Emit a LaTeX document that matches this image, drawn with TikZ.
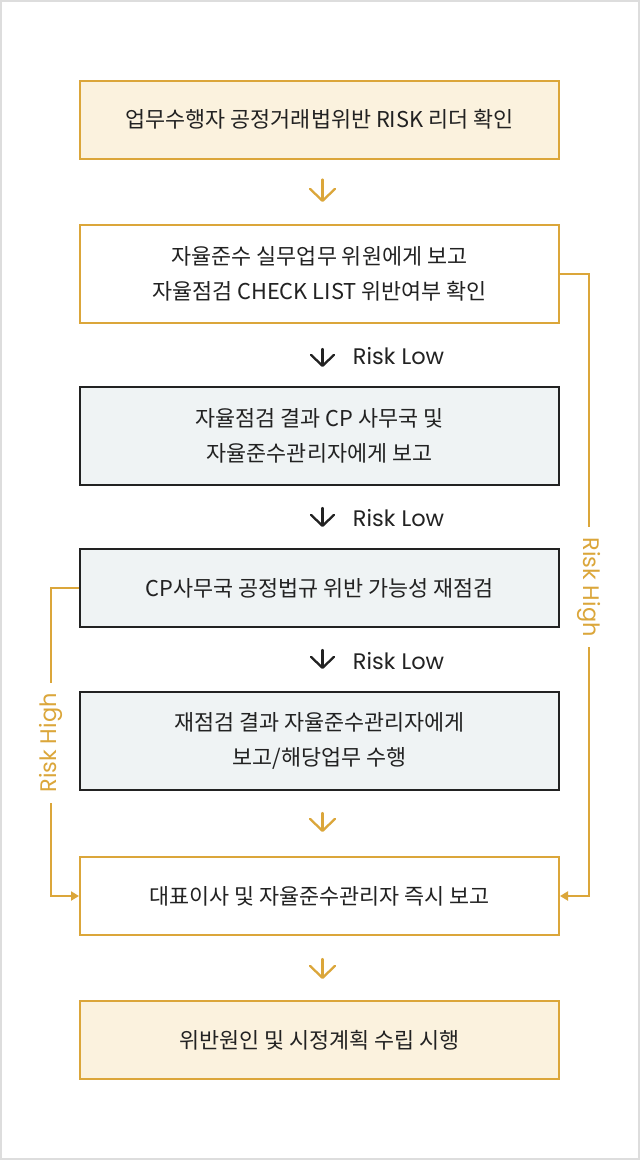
\documentclass[tikz,border=0pt]{standalone}
\usepackage{fontspec}
\setmainfont{Noto Sans CJK KR}
\newfontfamily\riskfont{Poppins}
\usetikzlibrary{arrows.meta,calc}
\definecolor{gold}{HTML}{DBA63A}
\definecolor{cream}{HTML}{FBF2DE}
\definecolor{paleblue}{HTML}{EFF3F4}
\definecolor{ink}{HTML}{222222}
\definecolor{frame}{HTML}{DDDDDD}
\tikzset{
  box/.style={draw, line width=2pt, minimum width=479pt, inner sep=0pt, align=center,
    font=\fontsize{21.8}{35}\selectfont, text=ink},
  goldbox/.style={box, draw=gold, fill=cream},
  whitebox/.style={box, draw=gold, fill=white},
  graybox/.style={box, draw=ink, fill=paleblue},
  goldarr/.style={draw=gold, line width=2.3pt, line cap=round, -{Straight Barb[length=12pt,width=25pt,round]}},
  blackarr/.style={draw=ink, line width=2.3pt, line cap=round, -{Straight Barb[length=11pt,width=23pt,round]}},
  loopline/.style={draw=gold, line width=2pt, -{Triangle[length=8pt,width=9pt]}},
  risklbl/.style={font=\riskfont\fontsize{22.5}{26}\selectfont},
}
\begin{document}
\begin{tikzpicture}[x=1pt,y=-1pt]
\useasboundingbox (0,0) rectangle (640,1160);
\fill[frame] (0,0) rectangle (640,1160);
\fill[white] (2,2) rectangle (638,1158);

\node[goldbox, minimum height=78pt] (b1) at (319.5,119.5) {업무수행자 공정거래법위반 RISK 리더 확인};
\node[whitebox, minimum height=98pt] (b2) at (319.5,274) {자율준수 실무업무 위원에게 보고\\자율점검 CHECK LIST 위반여부 확인};
\node[graybox, minimum height=98pt] (b3) at (319.5,436) {자율점검 결과 CP 사무국 및\\자율준수관리자에게 보고};
\node[graybox, minimum height=78pt] (b4) at (319.5,588) {CP사무국 공정법규 위반 가능성 재점검};
\node[graybox, minimum height=98pt] (b5) at (319.5,741) {재점검 결과 자율준수관리자에게\\보고/해당업무 수행};
\node[whitebox, minimum height=78pt] (b6) at (319.5,896) {대표이사 및 자율준수관리자 즉시 보고};
\node[goldbox, minimum height=78pt] (b7) at (319.5,1040) {위반원인 및 시정계획 수립 시행};

\draw[goldarr, shorten <=20pt, shorten >=22pt] ([xshift=3pt]b1.south) -- ([xshift=3pt]b2.north);
\draw[blackarr, shorten <=25pt, shorten >=19pt] ([xshift=3pt]b2.south) -- ([xshift=3pt]b3.north)
  node[pos=0.52, right=26pt, risklbl, text=ink] {Risk Low};
\draw[blackarr, shorten <=22pt, shorten >=21pt] ([xshift=3pt]b3.south) -- ([xshift=3pt]b4.north)
  node[pos=0.52, right=26pt, risklbl, text=ink] {Risk Low};
\draw[blackarr, shorten <=22pt, shorten >=22pt] ([xshift=3pt]b4.south) -- ([xshift=3pt]b5.north)
  node[pos=0.52, right=26pt, risklbl, text=ink] {Risk Low};
\draw[goldarr, shorten <=22pt, shorten >=24pt] ([xshift=3pt]b5.south) -- ([xshift=3pt]b6.north);
\draw[goldarr, shorten <=23pt, shorten >=21pt] ([xshift=3pt]b6.south) -- ([xshift=3pt]b7.north);

\coordinate (rc) at (589,0);
\coordinate (lc) at (51,0);
\draw[loopline] (b2.east) -- (b2.east -| rc) -- (b6.east -| rc) -- (b6.east);
\draw[loopline] (b4.west) -- (b4.west -| lc) -- (b6.west -| lc) -- (b6.west);
\node[risklbl, text=gold, fill=white, rotate=-90, inner xsep=10pt, inner ysep=2pt] (rh) at (589,587) {Risk High};
\node[risklbl, text=gold, fill=white, rotate=90, inner xsep=10pt, inner ysep=2pt] (lh) at (51,743) {Risk High};
\end{tikzpicture}
\end{document}
